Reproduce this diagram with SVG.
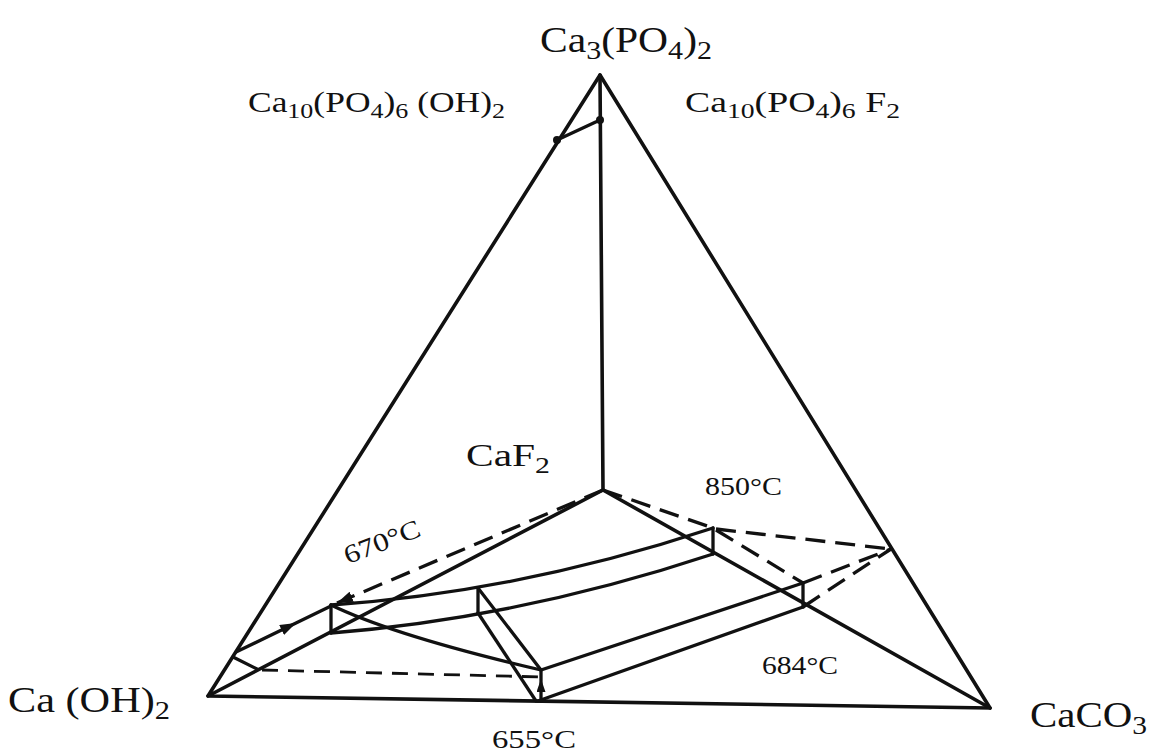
<svg xmlns="http://www.w3.org/2000/svg" width="1152" height="756" viewBox="0 0 1152 756">
<defs>
<style>
.ln{fill:none;stroke:#111;stroke-width:3.3;stroke-linecap:round;stroke-linejoin:round}
.fr{fill:none;stroke:#111;stroke-width:3.6;stroke-linecap:round;stroke-linejoin:round}
.ds{fill:none;stroke:#111;stroke-width:3.3;stroke-dasharray:20 10}
.ds2{fill:none;stroke:#111;stroke-width:2.8;stroke-dasharray:16 10}
.lbl{font-family:"Liberation Serif","Times New Roman",serif;fill:#111}
.dot{fill:#111}
</style>
<marker id="ah" viewBox="0 0 16 11" refX="16" refY="5.5" markerWidth="16" markerHeight="11" markerUnits="userSpaceOnUse" orient="auto">
<path d="M0,0 L16,5.5 L0,11 z" fill="#111"/>
</marker>
<marker id="ah2" viewBox="0 0 13 9" refX="13" refY="4.5" markerWidth="13" markerHeight="9" markerUnits="userSpaceOnUse" orient="auto">
<path d="M0,0 L13,4.5 L0,9 z" fill="#111"/>
</marker>
</defs>
<rect width="1152" height="756" fill="#fff"/>
<g id="frame">
<path class="fr" d="M208,696 L600,75 L990,708 Z"/>
<path class="fr" d="M600,75 L603,490"/>
<path class="fr" d="M208,696 L603,490 L990,708"/>
</g>
<g id="connectors">
<path class="ln" d="M557,140 L600,120"/>
<circle class="dot" cx="557" cy="140" r="4"/>
<circle class="dot" cx="600" cy="120" r="4"/>
<path class="ln" d="M236,652 L296,623 L331,606" marker-mid="url(#ah)"/>
<path class="ln" d="M233,657 L257,669"/>
<path class="ds2" d="M262,670 L541,677"/>
<path class="ln" d="M331,605 L331,633"/>
<path class="ln" d="M331,605 Q520,592 713,528"/>
<path class="ln" d="M331,633 Q520,618 713,554"/>
<path class="ln" d="M478,588 L478,613"/>
<path class="ln" d="M478,588 L541,670"/>
<path class="ln" d="M478,613 L536,701"/>
<path class="ln" d="M541,701 L541,679 L541,670" marker-mid="url(#ah2)"/>
<path class="ln" d="M331,605 Q395,636 541,670"/>
<path class="ln" d="M541,670 L803,583"/>
<path class="ln" d="M538,701 L803,607"/>
<path class="ln" d="M803,583 L803,607"/>
<path class="ln" d="M713,528 L713,554"/>
<path class="ds" d="M603,490 L713,528"/>
<path class="ds" d="M716,529 L891,549"/>
<path class="ds" d="M716,530 L803,583"/>
<path class="ds" d="M803,583 L891,549"/>
<path class="ds" d="M803,607 L891,549"/>
<path class="ds" d="M603,490 L337,603" marker-end="url(#ah)"/>
</g>
<g id="labels" class="lbl">
<text id="lbl-ca3po42" x="540" y="52" font-size="36" textLength="172" lengthAdjust="spacingAndGlyphs">Ca<tspan dy="7" font-size="26">3</tspan><tspan dy="-7">(PO</tspan><tspan dy="7" font-size="26">4</tspan><tspan dy="-7">)</tspan><tspan dy="7" font-size="26">2</tspan></text>
<text id="lbl-hap" x="248" y="112" font-size="30" textLength="257" lengthAdjust="spacingAndGlyphs">Ca<tspan dy="6" font-size="22">10</tspan><tspan dy="-6">(PO</tspan><tspan dy="6" font-size="22">4</tspan><tspan dy="-6">)</tspan><tspan dy="6" font-size="22">6</tspan><tspan dy="-6"> (OH)</tspan><tspan dy="6" font-size="22">2</tspan></text>
<text id="lbl-fap" x="685" y="112" font-size="30" textLength="215" lengthAdjust="spacingAndGlyphs">Ca<tspan dy="6" font-size="22">10</tspan><tspan dy="-6">(PO</tspan><tspan dy="6" font-size="22">4</tspan><tspan dy="-6">)</tspan><tspan dy="6" font-size="22">6</tspan><tspan dy="-6"> F</tspan><tspan dy="6" font-size="22">2</tspan></text>
<text id="lbl-caf2" x="466" y="466" font-size="32" textLength="84" lengthAdjust="spacingAndGlyphs">CaF<tspan dy="7" font-size="23">2</tspan></text>
<text id="lbl-850" x="705" y="495" font-size="26" textLength="77" lengthAdjust="spacingAndGlyphs">850°C</text>
<text id="lbl-670" x="385" y="550" font-size="26" text-anchor="middle" textLength="80" lengthAdjust="spacingAndGlyphs" transform="rotate(-21 385 550)">670°C</text>
<text id="lbl-684" x="762" y="674" font-size="26" textLength="76" lengthAdjust="spacingAndGlyphs">684°C</text>
<text id="lbl-655" x="492" y="748" font-size="25" textLength="84" lengthAdjust="spacingAndGlyphs">655°C</text>
<text id="lbl-caoh2" x="8" y="712" font-size="36" textLength="162" lengthAdjust="spacingAndGlyphs">Ca (OH)<tspan dy="7" font-size="26">2</tspan></text>
<text id="lbl-caco3" x="1030" y="727" font-size="36" textLength="117" lengthAdjust="spacingAndGlyphs">CaCO<tspan dy="7" font-size="26">3</tspan></text>
</g>
</svg>
